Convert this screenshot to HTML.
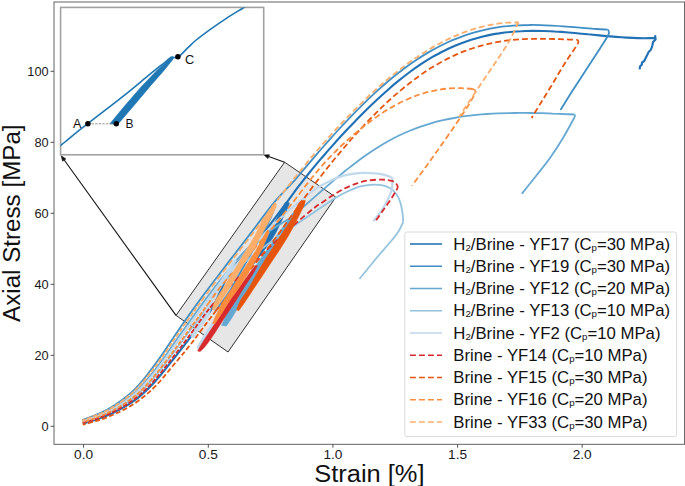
<!DOCTYPE html>
<html lang="en">
<head>
<meta charset="utf-8">
<title>Axial stress vs strain</title>
<style>
html,body{margin:0;padding:0;background:#fff;}
body{width:685px;height:486px;overflow:hidden;font-family:"Liberation Sans",sans-serif;}
svg{display:block;}
</style>
</head>
<body>
<svg width="685" height="486" viewBox="0 0 685 486" font-family="'Liberation Sans', sans-serif" shape-rendering="geometricPrecision">
<rect x="0" y="0" width="685" height="486" fill="#fff"/>
<polygon points="284.6,162.2 335.8,197.2 228.0,352.0 176.0,315.4" fill="#e6e6e6" stroke="#1a1a1a" stroke-width="0.9" stroke-linejoin="miter"/>
<g fill="none" stroke-linejoin="round" stroke-linecap="butt">
<path d="M252.5,263.5 C253.8,261.3 257.4,255.2 260.0,250.5 C262.6,245.8 265.6,240.5 268.2,235.5 C270.8,230.5 273.0,225.6 275.6,220.5 C278.2,215.4 282.1,208.1 283.8,205.0 C285.5,201.9 285.5,202.5 285.8,202.0 L288.6,202.5 C288.7,202.9 290.0,202.0 288.9,205.0 C287.8,208.0 284.2,215.4 281.8,220.5 C279.4,225.6 277.3,230.5 274.3,235.5 C271.3,240.5 267.4,245.8 264.0,250.5 C260.6,255.2 255.7,261.8 254.0,264.0 Z" fill="#2171b5" stroke="#2171b5" stroke-width="0.5"/>
<path d="M82.7,423.5 C85.1,422.8 92.3,420.9 97.1,419.2 C102.0,417.5 107.0,415.6 111.8,413.4 C116.6,411.2 121.1,408.9 125.8,406.1 C130.5,403.2 135.1,400.3 139.8,396.4 C144.5,392.5 149.2,388.0 154.2,382.6 C159.2,377.2 164.2,370.8 169.8,363.7 C175.5,356.7 181.2,349.4 188.2,340.2 C195.2,331.1 204.8,320.0 211.8,308.6 C218.8,297.2 223.5,282.1 230.0,272.0 C236.5,261.9 244.5,255.7 251.0,248.0 C257.5,240.3 263.0,233.7 269.0,226.0 C275.0,218.3 282.3,208.3 287.2,201.8 C292.1,195.2 294.6,191.5 298.3,186.6 C302.1,181.8 305.8,177.1 309.5,172.5 C313.2,167.9 316.9,163.5 320.6,159.1 C324.4,154.8 328.1,150.5 331.8,146.4 C335.5,142.2 339.2,138.1 342.9,134.1 C346.6,130.1 350.4,126.2 354.1,122.4 C357.8,118.5 361.5,114.8 365.2,111.1 C368.9,107.4 372.6,103.8 376.4,100.3 C380.1,96.8 383.8,93.4 387.5,90.2 C391.2,86.9 394.9,83.7 398.7,80.7 C402.4,77.7 406.1,74.8 409.8,72.0 C413.5,69.3 417.2,66.7 420.9,64.2 C424.7,61.7 428.4,59.4 432.1,57.2 C435.8,55.1 439.5,53.0 443.2,51.2 C447.0,49.3 450.7,47.6 454.4,46.0 C458.1,44.4 461.8,43.0 465.5,41.7 C469.2,40.4 473.0,39.2 476.7,38.2 C480.4,37.1 484.1,36.2 487.8,35.4 C491.5,34.6 495.2,33.9 499.0,33.4 C502.7,32.8 506.4,32.3 510.1,32.0 C513.8,31.6 517.5,31.3 521.3,31.2 C525.0,31.0 528.7,30.9 532.4,30.8 C536.1,30.8 539.8,30.9 543.5,31.0 C547.3,31.1 551.0,31.2 554.7,31.5 C558.4,31.7 562.1,31.9 565.8,32.2 C569.6,32.5 573.3,32.9 577.0,33.2 C580.7,33.5 584.4,33.9 588.1,34.3 C591.8,34.6 595.6,35.0 599.3,35.4 C603.0,35.8 606.7,36.1 610.4,36.4 C614.1,36.8 617.8,37.1 621.6,37.3 C625.3,37.6 629.0,37.8 632.7,37.9 C636.4,38.1 640.1,38.2 643.9,38.2 C647.6,38.2 653.1,38.0 655.0,38.0 M655.0,37.9 L655.2,36.0 L655.6,39.4 L653.0,42.0 L652.4,45.6 L650.9,49.7 L648.8,51.7 L646.2,56.9 L644.2,61.0 L641.9,62.6 L641.9,64.6 L640.1,66.2 L639.6,69.4" stroke="#2171b5" stroke-width="2.15"/>
<path d="M82.3,420.0 C84.6,419.1 91.5,416.8 96.0,414.8 C100.5,412.9 105.3,410.8 109.6,408.3 C113.9,405.8 117.9,403.1 122.0,400.0 C126.1,396.9 130.2,393.8 134.4,389.6 C138.6,385.4 142.5,380.7 147.0,375.0 C151.5,369.3 156.2,363.0 161.4,355.6 C166.6,348.2 171.5,340.2 177.9,330.9 C184.3,321.6 191.0,311.9 199.8,300.0 C208.6,288.1 221.3,271.6 230.6,259.4 C239.9,247.2 248.2,236.4 255.4,227.0 C262.6,217.6 267.0,210.9 273.6,203.0 C280.2,195.1 289.6,185.9 295.0,179.8 C300.4,173.8 302.4,171.0 306.2,166.6 C309.9,162.3 313.6,157.9 317.3,153.6 C321.0,149.3 324.8,145.1 328.5,140.9 C332.2,136.7 335.9,132.5 339.6,128.5 C343.4,124.5 347.1,120.5 350.8,116.6 C354.5,112.7 358.2,109.0 362.0,105.3 C365.7,101.6 369.4,98.0 373.1,94.6 C376.8,91.1 380.6,87.8 384.3,84.5 C388.0,81.3 391.7,78.2 395.4,75.2 C399.2,72.3 402.9,69.4 406.6,66.7 C410.3,64.0 414.0,61.4 417.8,59.0 C421.5,56.5 425.2,54.2 428.9,52.1 C432.6,49.9 436.4,47.9 440.1,46.0 C443.8,44.1 447.5,42.4 451.2,40.7 C455.0,39.1 458.7,37.6 462.4,36.3 C466.1,35.0 469.9,33.7 473.6,32.7 C477.3,31.6 481.0,30.6 484.7,29.8 C488.5,28.9 492.2,28.2 495.9,27.6 C499.6,27.0 503.3,26.5 507.1,26.2 C510.8,25.8 514.5,25.5 518.2,25.3 C521.9,25.1 525.7,25.0 529.4,25.0 C533.1,24.9 536.8,25.0 540.5,25.1 C544.3,25.2 548.0,25.4 551.7,25.6 C555.4,25.8 559.1,26.0 562.9,26.3 C566.6,26.6 570.3,26.9 574.0,27.2 C577.7,27.5 581.5,27.9 585.2,28.2 C588.9,28.5 592.6,28.8 596.3,29.0 C600.1,29.3 605.6,29.5 607.5,29.6 M607.5,29.4 C607.7,29.7 608.5,30.1 608.6,31.0 C608.7,31.9 609.7,32.1 608.3,35.0 C606.9,37.9 603.9,42.4 600.0,48.5 C596.1,54.6 589.7,64.3 585.0,71.5 C580.3,78.7 576.1,85.1 572.0,91.5 C567.9,97.9 562.4,106.9 560.5,110.0 M275.4,204.0 C274.6,206.2 273.0,212.3 270.8,217.4 C268.6,222.5 265.4,228.4 262.0,234.6 C258.6,240.8 254.1,248.1 250.3,254.8 C246.5,261.5 242.7,268.3 239.0,274.8 C235.3,281.3 232.0,287.7 228.0,293.8 C224.0,299.9 217.2,308.5 215.0,311.4" stroke="#3f8fc5" stroke-width="1.8"/>
<path d="M221.5,325.5 C222.2,323.8 224.1,319.7 226.0,315.5 C227.9,311.3 230.4,305.2 233.0,300.5 C235.6,295.8 237.7,293.3 241.5,287.5 C245.3,281.7 251.8,271.7 256.0,265.5 C260.2,259.3 263.0,255.5 266.5,250.5 C270.0,245.5 273.4,240.5 276.9,235.5 C280.4,230.5 284.8,224.3 287.5,220.5 C290.2,216.7 292.1,213.8 293.0,212.5 L294.5,213.0 C293.9,214.2 293.1,216.8 291.0,220.5 C288.9,224.2 285.0,230.5 282.0,235.5 C279.0,240.5 276.1,245.5 273.0,250.5 C269.9,255.5 267.2,259.3 263.5,265.5 C259.8,271.7 254.6,281.7 251.0,287.5 C247.4,293.3 244.9,295.8 242.0,300.5 C239.1,305.2 236.0,311.2 233.4,315.5 C230.8,319.8 227.7,324.2 226.5,326.0 Z" fill="#65a9d3" stroke="#65a9d3" stroke-width="0.5"/>
<path d="M82.4,421.0 C84.7,420.2 91.7,417.9 96.3,416.1 C101.0,414.2 105.8,412.2 110.2,409.8 C114.7,407.4 118.8,404.8 123.1,401.8 C127.4,398.7 131.6,395.7 136.0,391.6 C140.3,387.5 144.4,382.8 149.1,377.2 C153.7,371.6 158.5,365.2 163.8,358.0 C169.1,350.7 174.3,342.9 180.9,333.6 C187.5,324.4 196.4,311.8 203.3,302.5 C210.1,293.2 215.0,286.6 222.0,278.0 C229.0,269.4 237.3,258.7 245.0,251.0 C252.7,243.3 260.5,237.5 268.0,232.0 C275.5,226.5 284.5,222.0 290.0,218.1 C295.5,214.3 297.3,212.0 300.9,208.9 C304.6,205.8 308.2,202.6 311.9,199.4 C315.5,196.2 319.2,193.0 322.8,189.8 C326.5,186.7 330.1,183.5 333.8,180.4 C337.4,177.3 341.1,174.3 344.7,171.3 C348.4,168.4 352.0,165.5 355.7,162.7 C359.3,160.0 363.0,157.3 366.6,154.8 C370.3,152.2 373.9,149.8 377.6,147.5 C381.2,145.2 384.9,143.0 388.5,141.0 C392.2,139.0 395.8,137.1 399.5,135.3 C403.1,133.6 406.8,132.0 410.4,130.5 C414.1,129.0 417.7,127.6 421.4,126.4 C425.0,125.1 428.7,124.0 432.3,122.9 C435.9,121.9 439.6,121.0 443.2,120.2 C446.9,119.3 450.5,118.6 454.2,118.0 C457.8,117.3 461.5,116.7 465.1,116.2 C468.8,115.7 472.4,115.3 476.1,114.9 C479.7,114.6 483.4,114.3 487.0,114.0 C490.7,113.8 494.3,113.6 498.0,113.4 C501.6,113.2 505.3,113.1 508.9,113.1 C512.6,113.0 516.2,113.0 519.9,112.9 C523.5,112.9 527.2,113.0 530.8,113.0 C534.5,113.1 538.1,113.1 541.8,113.2 C545.4,113.3 549.1,113.4 552.7,113.6 C556.4,113.7 560.0,113.8 563.7,114.0 C567.3,114.1 572.8,114.4 574.6,114.5 M574.6,114.7 C574.7,114.9 575.2,115.3 575.0,116.0 C574.8,116.7 575.6,115.3 573.6,119.0 C571.6,122.7 566.9,131.5 563.0,138.0 C559.1,144.5 554.5,151.7 550.0,158.0 C545.5,164.3 540.7,170.0 536.0,176.0 C531.3,182.0 524.2,190.8 521.8,193.8" stroke="#65a9d3" stroke-width="1.8"/>
<path d="M82.6,422.4 C84.9,421.6 92.0,419.6 96.8,417.8 C101.5,416.0 106.5,414.1 111.1,411.8 C115.7,409.5 120.1,407.1 124.6,404.2 C129.1,401.2 133.5,398.2 138.1,394.2 C142.6,390.2 147.1,385.7 151.9,380.2 C156.8,374.7 161.7,368.3 167.2,361.2 C172.7,354.0 178.2,346.5 185.0,337.3 C191.8,328.1 201.8,314.8 208.0,305.9 C214.2,297.0 215.8,291.3 222.0,284.0 C228.2,276.7 237.3,268.7 245.0,262.0 C252.7,255.3 260.5,249.6 268.0,244.0 C275.5,238.4 282.2,233.8 290.0,228.5 C297.8,223.2 308.5,216.0 314.5,212.0 C320.5,208.0 322.2,206.8 326.0,204.3 C329.8,201.8 333.3,199.1 337.0,196.9 C340.7,194.7 344.3,193.0 348.0,191.3 C351.7,189.6 355.6,187.8 359.3,186.7 C363.0,185.6 366.7,185.1 370.4,184.8 C374.1,184.6 378.1,184.6 381.5,185.2 C384.9,185.8 388.2,187.0 390.7,188.5 C393.2,190.0 394.8,191.8 396.3,194.0 C397.9,196.2 399.0,198.5 400.0,201.5 C401.0,204.5 401.8,208.4 402.3,211.8 C402.9,215.2 403.1,220.0 403.3,221.7 M403.3,221.7 C402.5,223.4 400.2,228.6 398.3,231.7 C396.4,234.8 395.1,236.3 392.0,240.0 C388.9,243.7 383.7,249.7 380.0,254.0 C376.3,258.3 373.4,261.8 370.0,266.0 C366.6,270.2 361.2,276.8 359.5,279.0" stroke="#94c4df" stroke-width="1.8"/>
<path d="M197.4,348.6 C197.4,348.1 196.1,348.5 197.7,345.5 C199.3,342.5 203.9,335.1 206.8,330.5 C209.7,325.9 212.1,322.4 215.0,318.0 C217.9,313.6 221.0,308.7 224.0,304.0 C227.0,299.3 231.5,292.3 233.0,290.0 L236.0,291.0 C234.8,293.2 231.2,299.5 228.5,304.0 C225.8,308.5 222.4,313.6 219.5,318.0 C216.6,322.4 214.0,325.9 211.0,330.5 C208.0,335.1 203.4,342.4 201.5,345.5 C199.6,348.6 200.1,348.6 199.8,349.2 Z" fill="#c1d9ed" stroke="#c1d9ed" stroke-width="0.5"/><path d="M191.0,337.0 C191.4,335.9 191.2,334.1 193.2,330.5 C195.2,326.9 200.4,320.1 202.8,315.5 C205.2,310.9 205.4,307.4 207.5,303.0 C209.6,298.6 212.4,294.2 215.5,289.0 C218.6,283.8 222.8,276.9 226.0,272.0 C229.2,267.1 233.1,261.6 234.5,259.5 L236.5,260.5 C235.3,262.7 232.3,268.6 229.5,273.5 C226.7,278.4 222.4,285.1 219.5,290.0 C216.6,294.9 213.8,298.8 212.0,303.0 C210.2,307.2 211.1,310.9 208.8,315.5 C206.6,320.1 201.0,326.8 198.5,330.5 C196.0,334.2 194.8,336.8 194.0,338.0 Z" fill="#c1d9ed" stroke="#c1d9ed" stroke-width="0.5"/>
<path d="M82.5,421.5 C84.8,420.7 91.8,418.5 96.5,416.7 C101.2,414.9 106.0,412.9 110.6,410.5 C115.1,408.2 119.3,405.6 123.7,402.6 C128.0,399.6 132.3,396.6 136.7,392.5 C141.2,388.5 145.4,383.9 150.1,378.3 C154.9,372.7 159.7,366.4 165.1,359.1 C170.4,351.9 175.7,344.2 182.4,335.0 C189.0,325.7 198.4,312.7 205.0,303.7 C211.6,294.7 215.3,289.1 222.0,281.0 C228.7,272.9 237.3,263.5 245.0,255.0 C252.7,246.5 261.3,236.8 268.0,230.0 C274.7,223.2 279.7,218.8 285.0,214.0 C290.3,209.2 295.0,205.6 300.0,201.5 C305.0,197.4 310.5,192.5 314.8,189.4 C319.1,186.3 322.3,184.9 326.0,183.0 C329.7,181.1 333.3,179.2 337.0,177.8 C340.7,176.4 343.7,175.4 348.0,174.6 C352.3,173.8 358.0,173.0 363.0,172.8 C368.0,172.7 373.8,173.2 377.8,173.7 C381.8,174.2 384.6,174.9 387.0,175.6 C389.4,176.3 391.5,177.6 392.4,178.0 M392.4,178.0 C392.4,178.8 392.6,180.8 392.4,183.0 C392.2,185.2 392.7,187.2 391.4,191.0 C390.1,194.8 386.8,201.8 384.7,205.6 C382.6,209.4 380.9,211.4 379.0,214.0 C377.1,216.6 374.4,220.0 373.5,221.2" stroke="#c1d9ed" stroke-width="2.3"/>
<path d="M197.6,351.0 C198.1,350.1 198.6,348.9 200.7,345.5 C202.8,342.1 207.0,335.5 210.3,330.5 C213.6,325.5 217.1,320.5 220.3,315.5 C223.6,310.5 226.7,305.2 229.8,300.5 C232.9,295.8 235.9,291.9 239.1,287.5 C242.3,283.1 246.3,277.7 249.0,274.0 C251.7,270.3 254.3,266.9 255.4,265.5 L257.6,265.8 C256.7,267.4 254.2,271.9 252.0,275.5 C249.8,279.1 246.8,283.3 244.1,287.5 C241.4,291.7 239.0,295.8 236.0,300.5 C233.0,305.2 229.3,310.5 226.0,315.5 C222.7,320.5 219.7,325.5 216.4,330.5 C213.1,335.5 208.7,342.0 206.0,345.5 C203.3,349.0 201.0,350.6 200.0,351.6 Z" fill="#d62a2c" stroke="#d62a2c" stroke-width="0.5"/>
<path d="M82.6,423.0 C85.0,422.3 92.2,420.3 97.0,418.6 C101.8,416.9 106.8,414.9 111.5,412.7 C116.2,410.5 120.7,408.2 125.3,405.3 C129.9,402.4 134.4,399.4 139.1,395.5 C143.7,391.5 148.3,387.1 153.3,381.6 C158.2,376.1 163.1,369.8 168.7,362.7 C174.3,355.6 180.0,348.2 186.9,339.0 C193.8,329.8 203.7,315.6 210.2,307.5" stroke="#d62a2c" stroke-width="1.8" stroke-dasharray="4.6 1.7" stroke-dashoffset="0.0"/>
<path d="M210.2,307.5 C216.7,299.3 219.4,296.9 226.0,290.0 C232.6,283.1 242.3,273.5 250.0,266.0 C257.7,258.5 264.6,251.9 272.0,245.0 C279.4,238.1 287.9,230.3 294.7,224.3 C301.5,218.3 308.4,212.6 313.0,208.9 C317.6,205.2 318.8,204.7 322.2,202.4 C325.6,200.1 329.6,197.3 333.3,195.0 C337.0,192.7 340.7,190.3 344.4,188.5 C348.1,186.7 351.9,185.2 355.6,183.9 C359.3,182.6 362.4,181.4 366.7,180.7 C371.0,180.0 377.2,179.5 381.5,179.6 C385.8,179.7 390.0,180.2 392.6,181.1 C395.2,182.0 396.4,184.2 397.2,184.8 M397.2,184.8 C397.3,185.2 397.8,186.6 397.6,187.5 C397.5,188.4 397.5,188.4 396.3,190.4 C395.1,192.4 392.9,196.3 390.7,199.6 C388.5,202.9 385.8,206.5 383.3,210.0 C380.9,213.5 377.2,218.8 376.0,220.5" stroke="#d62a2c" stroke-width="1.8" stroke-dasharray="5.9 3.1"/>
<path d="M236.6,310.0 C237.2,308.4 238.3,304.2 240.4,300.5 C242.5,296.8 245.5,293.3 249.0,287.5 C252.5,281.7 257.8,271.7 261.5,265.5 C265.2,259.3 267.8,255.5 271.0,250.5 C274.2,245.5 277.2,240.5 280.5,235.5 C283.8,230.5 287.6,225.6 290.5,220.5 C293.4,215.4 295.9,208.3 297.7,205.0 C299.5,201.7 300.9,201.2 301.5,200.5 L305.3,200.5 C305.1,201.2 305.6,201.7 304.2,205.0 C302.8,208.3 299.2,215.4 296.6,220.5 C294.0,225.6 291.5,230.5 288.6,235.5 C285.7,240.5 282.4,245.5 279.2,250.5 C276.0,255.5 273.3,259.3 269.2,265.5 C265.1,271.7 258.5,281.7 254.6,287.5 C250.7,293.3 248.6,296.7 246.0,300.5 C243.4,304.3 240.2,308.8 239.0,310.5 Z" fill="#e6550d" stroke="#e6550d" stroke-width="0.5"/>
<path d="M82.8,424.6 C85.2,423.9 92.5,422.2 97.5,420.6 C102.5,419.0 107.6,417.1 112.5,415.0 C117.4,412.9 122.2,410.8 127.0,408.0 C131.8,405.2 136.6,402.3 141.5,398.5 C146.4,394.7 151.3,390.4 156.5,385.0 C161.7,379.6 166.7,373.3 172.5,366.3 C178.3,359.3 184.3,352.4 191.5,343.2 C198.7,334.0 206.7,322.5 215.6,311.3" stroke="#e6550d" stroke-width="1.8" stroke-dasharray="5.0 2.4" stroke-dashoffset="2.0"/>
<path d="M215.6,311.3 C224.5,300.1 236.3,286.6 245.0,276.0 C253.7,265.4 261.0,257.0 268.0,248.0 C275.0,239.0 282.0,229.0 287.0,222.1 C292.0,215.2 294.4,211.6 298.1,206.4 C301.8,201.3 305.6,196.3 309.3,191.3 C313.0,186.3 316.7,181.5 320.4,176.7 C324.1,171.9 327.8,167.3 331.5,162.7 C335.2,158.1 339.0,153.6 342.7,149.3 C346.4,144.9 350.1,140.6 353.8,136.5 C357.5,132.3 361.2,128.3 364.9,124.4 C368.7,120.4 372.4,116.6 376.1,112.9 C379.8,109.2 383.5,105.7 387.2,102.2 C390.9,98.8 394.6,95.5 398.3,92.3 C402.1,89.2 405.8,86.1 409.5,83.2 C413.2,80.3 416.9,77.6 420.6,75.0 C424.3,72.4 428.0,69.9 431.8,67.6 C435.5,65.3 439.2,63.2 442.9,61.2 C446.6,59.2 450.3,57.3 454.0,55.6 C457.7,53.9 461.4,52.3 465.2,50.9 C468.9,49.5 472.6,48.2 476.3,47.1 C480.0,46.0 483.7,45.0 487.4,44.1 C491.1,43.2 494.8,42.5 498.6,41.8 C502.3,41.2 506.0,40.7 509.7,40.2 C513.4,39.8 517.1,39.5 520.8,39.3 C524.5,39.0 528.2,38.9 532.0,38.8 C535.7,38.8 539.4,38.8 543.1,38.8 C546.8,38.8 550.5,38.9 554.2,39.0 C557.9,39.1 561.7,39.3 565.4,39.4 C569.1,39.5 574.6,39.7 576.5,39.8 M576.5,39.6 C576.8,39.8 578.1,40.1 578.2,41.0 C578.3,41.9 579.2,41.3 577.0,45.0 C574.8,48.7 569.0,56.7 565.0,63.0 C561.0,69.3 556.8,76.7 553.0,83.0 C549.2,89.3 545.6,95.2 542.0,101.0 C538.4,106.8 533.3,115.2 531.6,118.0" stroke="#e6550d" stroke-width="1.8" stroke-dasharray="5.9 3.1"/>
<path d="M212.5,323.5 C213.1,322.2 214.0,319.3 215.9,315.5 C217.8,311.7 220.9,305.2 223.7,300.5 C226.4,295.8 228.7,293.3 232.4,287.5 C236.2,281.7 242.3,271.7 246.2,265.5 C250.1,259.3 252.7,255.5 255.7,250.5 C258.7,245.5 262.2,238.9 264.1,235.5 C266.0,232.1 266.8,230.9 267.3,230.0 L268.5,230.0 C268.4,230.9 268.9,232.1 267.7,235.5 C266.5,238.9 263.8,245.5 261.3,250.5 C258.8,255.5 256.5,259.3 252.8,265.5 C249.1,271.7 242.9,281.7 239.1,287.5 C235.3,293.3 232.9,295.8 229.8,300.5 C226.7,305.2 222.9,311.6 220.3,315.5 C217.8,319.4 215.5,322.6 214.5,324.0 Z" fill="#fd8d3c" stroke="#fd8d3c" stroke-width="0.5"/>
<path d="M82.5,422.1 C84.9,421.3 92.0,419.3 96.7,417.5 C101.4,415.7 106.3,413.7 110.9,411.4 C115.5,409.1 119.8,406.6 124.3,403.7 C128.8,400.7 133.2,397.7 137.7,393.7 C142.2,389.7 146.6,385.1 151.4,379.6 C156.2,374.1 161.0,367.7 166.5,360.5 C172.0,353.3 177.4,345.8 184.2,336.6 C190.9,327.3 200.8,313.8 207.1,305.2" stroke="#fd8d3c" stroke-width="1.8" stroke-dasharray="4.4 1.5" stroke-dashoffset="3.1"/>
<path d="M207.1,305.2 C213.4,296.6 215.7,292.7 222.0,285.0 C228.3,277.3 237.3,267.7 245.0,259.0 C252.7,250.3 261.3,240.8 268.0,233.0 C274.7,225.2 280.3,218.1 285.0,212.3 C289.7,206.6 292.4,203.0 296.0,198.3 C299.7,193.5 303.4,188.5 307.1,183.8 C310.8,179.1 314.5,174.5 318.1,170.2 C321.8,165.9 325.5,161.8 329.2,157.9 C332.9,154.0 336.6,150.4 340.2,146.9 C343.9,143.3 347.6,140.0 351.3,136.8 C355.0,133.5 358.6,130.5 362.3,127.5 C366.0,124.6 369.7,121.8 373.4,119.1 C377.1,116.5 380.7,114.0 384.4,111.6 C388.1,109.3 391.8,107.1 395.5,105.1 C399.2,103.1 402.8,101.3 406.5,99.7 C410.2,98.0 413.9,96.5 417.6,95.2 C421.2,93.9 424.9,92.8 428.6,91.9 C432.3,91.0 436.0,90.2 439.7,89.6 C443.3,89.0 447.0,88.6 450.7,88.4 C454.4,88.2 458.1,88.1 461.8,88.2 C465.4,88.3 471.0,88.8 472.8,89.0 M472.8,88.9 C473.2,89.4 476.0,89.3 475.4,91.9 C474.8,94.5 471.9,99.4 469.0,104.3 C466.1,109.2 462.7,114.1 457.9,121.2 C453.1,128.3 445.5,139.2 440.0,147.0 C434.5,154.8 429.7,161.5 425.0,168.0 C420.3,174.5 414.2,182.8 412.0,185.8" stroke="#fd8d3c" stroke-width="1.8" stroke-dasharray="5.9 3.1"/>
<path d="M212.0,309.5 C212.6,308.0 213.5,304.2 215.4,300.5 C217.3,296.8 219.9,293.3 223.5,287.5 C227.1,281.7 233.3,271.7 237.0,265.5 C240.7,259.3 242.9,255.5 245.9,250.5 C248.9,245.5 252.2,240.5 254.9,235.5 C257.6,230.5 259.6,225.2 262.4,220.5 C265.2,215.8 269.5,209.9 271.5,207.0 C273.5,204.1 273.9,203.7 274.4,203.0 L276.0,203.2 C276.0,203.9 276.9,204.6 275.8,207.5 C274.7,210.4 271.9,215.8 269.5,220.5 C267.1,225.2 263.8,230.5 261.1,235.5 C258.4,240.5 256.1,245.5 253.1,250.5 C250.1,255.5 246.9,259.3 243.1,265.5 C239.2,271.7 233.6,281.7 230.0,287.5 C226.4,293.3 224.1,296.8 221.5,300.5 C218.9,304.2 215.7,308.4 214.5,310.0 Z" fill="#fdae6b" stroke="#fdae6b" stroke-width="0.5"/>
<path d="M82.3,420.5 C84.6,419.6 91.6,417.3 96.2,415.4 C100.7,413.5 105.5,411.4 109.9,409.0 C114.3,406.5 118.3,403.9 122.5,400.8 C126.7,397.7 130.9,394.6 135.1,390.5 C139.4,386.4 143.4,381.6 147.9,376.0 C152.5,370.4 157.3,364.0 162.5,356.7 C167.7,349.4 172.8,341.4 179.3,332.1 C185.7,322.9 193.6,311.8 201.4,301.1" stroke="#fdae6b" stroke-width="1.8" stroke-dasharray="4.8 1.4" stroke-dashoffset="1.2"/>
<path d="M201.4,301.1 C209.2,290.4 217.9,278.7 226.0,268.0 C234.1,257.3 241.9,247.7 250.0,237.0 C258.1,226.3 268.8,211.6 274.8,203.6 C280.8,195.6 282.2,193.9 285.9,189.1 C289.6,184.3 293.3,179.6 297.0,175.0 C300.7,170.4 304.4,165.9 308.0,161.4 C311.7,156.9 315.4,152.6 319.1,148.3 C322.8,144.0 326.5,139.8 330.2,135.6 C333.9,131.5 337.6,127.5 341.3,123.6 C345.0,119.6 348.7,115.8 352.4,112.0 C356.1,108.3 359.8,104.6 363.5,101.1 C367.1,97.5 370.8,94.1 374.5,90.7 C378.2,87.4 381.9,84.1 385.6,81.0 C389.3,77.9 393.0,74.8 396.7,71.9 C400.4,69.0 404.1,66.2 407.8,63.5 C411.5,60.9 415.2,58.3 418.9,55.9 C422.6,53.4 426.3,51.1 429.9,48.9 C433.6,46.7 437.3,44.6 441.0,42.7 C444.7,40.8 448.4,38.9 452.1,37.3 C455.8,35.6 459.5,34.1 463.2,32.7 C466.9,31.3 470.6,30.0 474.3,28.9 C478.0,27.7 481.7,26.8 485.4,25.9 C489.0,25.1 492.7,24.4 496.4,23.9 C500.1,23.3 503.8,22.9 507.5,22.7 C511.2,22.5 516.8,22.5 518.6,22.5 M518.6,22.0 C517.2,25.0 513.1,34.2 510.0,39.8 C506.9,45.4 503.5,50.3 500.0,55.7 C496.5,61.1 494.2,64.3 489.0,72.0 C483.8,79.7 474.0,94.3 469.0,101.8 C464.0,109.2 460.8,114.2 459.1,116.7" stroke="#fdae6b" stroke-width="1.8" stroke-dasharray="5.9 3.1"/>
</g>
<path d="M176.0,315.4 L64.2,160.0" stroke="#111" stroke-width="1.1" fill="none"/><polygon points="61.2,155.8 65.9,158.9 62.6,161.2" fill="#111" stroke="#111" stroke-width="0.6" stroke-linejoin="miter"/>
<path d="M284.6,162.2 L268.7,156.6" stroke="#111" stroke-width="1.1" fill="none"/><polygon points="263.8,154.9 269.4,154.7 268.0,158.5" fill="#111" stroke="#111" stroke-width="0.6" stroke-linejoin="miter"/>
<rect x="60.6" y="7.4" width="203.1" height="147.4" fill="#fff" stroke="#a2a2a2" stroke-width="1.6"/>
<clipPath id="ci"><rect x="60.6" y="7.4" width="203.1" height="147.4"/></clipPath>
<g clip-path="url(#ci)" fill="none">
<path d="M56.0,149.2 C56.8,148.6 59.1,146.8 60.6,145.6 C62.1,144.4 62.4,144.1 65.0,142.0 C67.6,139.9 72.2,135.8 76.0,132.8 C79.8,129.8 83.6,126.9 87.6,123.8 C91.6,120.7 93.4,119.3 100.0,114.2 C106.6,109.1 118.9,99.7 127.1,93.1 C135.3,86.5 142.9,80.0 149.4,74.7 C155.9,69.4 162.1,64.5 165.8,61.5 C169.5,58.5 170.6,57.7 171.6,56.9" stroke="#1f77b4" stroke-width="1.6"/>
<path d="M171.6,56.9 C172.7,56.9 175.4,58.6 178.2,57.0 C181.0,55.4 185.5,50.0 188.5,47.2 C191.5,44.4 192.6,42.9 196.2,40.0 C199.8,37.1 205.0,33.2 210.0,29.6 C215.0,26.0 220.3,22.3 226.0,18.6 C231.7,14.9 240.1,9.9 244.4,7.2 C248.7,4.5 250.7,3.3 252.0,2.5" stroke="#1f77b4" stroke-width="1.6"/>
<polygon points="109.9,123.8 124.7,105.9 141.1,87.0 157.6,69.7 170.7,57.4 172.6,56.9 173.6,58.4 163.9,70.6 150.8,85.4 134.3,105.1 120.9,120.7 117.6,124.4" fill="#1f77b4" stroke="#1f77b4" stroke-width="0.7" stroke-linejoin="round"/>
</g>
<path d="M87.9,123.8 L116.3,123.8" stroke="#888" stroke-width="0.9" stroke-dasharray="2.4 1.2" fill="none"/>
<circle cx="87.9" cy="123.8" r="2.75" fill="#000"/>
<circle cx="116.3" cy="123.8" r="2.75" fill="#000"/>
<circle cx="177.9" cy="56.8" r="2.75" fill="#000"/>
<g font-size="12.4" fill="#111">
<text x="72.9" y="127.6" textLength="8.4" lengthAdjust="spacingAndGlyphs">A</text>
<text x="125.5" y="127.6" textLength="8.0" lengthAdjust="spacingAndGlyphs">B</text>
<text x="185.0" y="63.6" textLength="9.2" lengthAdjust="spacingAndGlyphs">C</text>
</g>
<rect x="54.0" y="2.0" width="630.55" height="442.3" fill="none" stroke="#5c5c5c" stroke-width="0.95"/>
<g stroke="#333" stroke-width="0.85">
<line x1="83.6" y1="444.3" x2="83.6" y2="447.7"/>
<line x1="208.3" y1="444.3" x2="208.3" y2="447.7"/>
<line x1="332.9" y1="444.3" x2="332.9" y2="447.7"/>
<line x1="457.6" y1="444.3" x2="457.6" y2="447.7"/>
<line x1="582.2" y1="444.3" x2="582.2" y2="447.7"/>
<line x1="54.0" y1="426.3" x2="50.6" y2="426.3"/>
<line x1="54.0" y1="355.3" x2="50.6" y2="355.3"/>
<line x1="54.0" y1="284.3" x2="50.6" y2="284.3"/>
<line x1="54.0" y1="213.3" x2="50.6" y2="213.3"/>
<line x1="54.0" y1="142.3" x2="50.6" y2="142.3"/>
<line x1="54.0" y1="71.3" x2="50.6" y2="71.3"/>
</g>
<g font-size="12.5" fill="#1a1a1a">
<text x="83.6" y="459.0" text-anchor="middle" textLength="19.0" lengthAdjust="spacingAndGlyphs">0.0</text>
<text x="208.3" y="459.0" text-anchor="middle" textLength="19.0" lengthAdjust="spacingAndGlyphs">0.5</text>
<text x="332.9" y="459.0" text-anchor="middle" textLength="19.0" lengthAdjust="spacingAndGlyphs">1.0</text>
<text x="457.6" y="459.0" text-anchor="middle" textLength="19.0" lengthAdjust="spacingAndGlyphs">1.5</text>
<text x="582.2" y="459.0" text-anchor="middle" textLength="19.0" lengthAdjust="spacingAndGlyphs">2.0</text>
<text x="48.6" y="430.8" text-anchor="end" textLength="7.1" lengthAdjust="spacingAndGlyphs">0</text>
<text x="48.6" y="359.8" text-anchor="end" textLength="14.2" lengthAdjust="spacingAndGlyphs">20</text>
<text x="48.6" y="288.8" text-anchor="end" textLength="14.2" lengthAdjust="spacingAndGlyphs">40</text>
<text x="48.6" y="217.8" text-anchor="end" textLength="14.2" lengthAdjust="spacingAndGlyphs">60</text>
<text x="48.6" y="146.8" text-anchor="end" textLength="14.2" lengthAdjust="spacingAndGlyphs">80</text>
<text x="48.6" y="75.8" text-anchor="end" textLength="21.3" lengthAdjust="spacingAndGlyphs">100</text>
</g>
<text x="369.4" y="481.6" font-size="23" text-anchor="middle" textLength="110.4" lengthAdjust="spacingAndGlyphs" fill="#111">Strain [%]</text>
<text transform="translate(20.2,223.2) rotate(-90)" font-size="23" text-anchor="middle" textLength="197.5" lengthAdjust="spacingAndGlyphs" fill="#111">Axial Stress [MPa]</text>
<rect x="404.8" y="232.0" width="271.8" height="204.60000000000002" rx="2.2" ry="2.2" fill="#fff" fill-opacity="0.8" stroke="#dadada" stroke-width="1"/>
<line x1="410.0" y1="244.00" x2="442.0" y2="244.00" stroke="#2171b5" stroke-width="1.55"/>
<text x="453.3" y="249.70" font-size="16.2" fill="#111" textLength="216.8" lengthAdjust="spacingAndGlyphs">H<tspan font-size="9.4" dy="1.0">2</tspan><tspan dy="-1.0">/Brine - YF17 (C</tspan><tspan font-size="9.4" dy="1.0">p</tspan><tspan dy="-1.0">=30 MPa)</tspan></text>
<line x1="410.0" y1="266.25" x2="442.0" y2="266.25" stroke="#3f8fc5" stroke-width="1.55"/>
<text x="453.3" y="271.95" font-size="16.2" fill="#111" textLength="216.8" lengthAdjust="spacingAndGlyphs">H<tspan font-size="9.4" dy="1.0">2</tspan><tspan dy="-1.0">/Brine - YF19 (C</tspan><tspan font-size="9.4" dy="1.0">p</tspan><tspan dy="-1.0">=30 MPa)</tspan></text>
<line x1="410.0" y1="288.50" x2="442.0" y2="288.50" stroke="#65a9d3" stroke-width="1.55"/>
<text x="453.3" y="294.20" font-size="16.2" fill="#111" textLength="216.8" lengthAdjust="spacingAndGlyphs">H<tspan font-size="9.4" dy="1.0">2</tspan><tspan dy="-1.0">/Brine - YF12 (C</tspan><tspan font-size="9.4" dy="1.0">p</tspan><tspan dy="-1.0">=20 MPa)</tspan></text>
<line x1="410.0" y1="310.75" x2="442.0" y2="310.75" stroke="#94c4df" stroke-width="1.55"/>
<text x="453.3" y="316.45" font-size="16.2" fill="#111" textLength="216.8" lengthAdjust="spacingAndGlyphs">H<tspan font-size="9.4" dy="1.0">2</tspan><tspan dy="-1.0">/Brine - YF13 (C</tspan><tspan font-size="9.4" dy="1.0">p</tspan><tspan dy="-1.0">=10 MPa)</tspan></text>
<line x1="410.0" y1="333.00" x2="442.0" y2="333.00" stroke="#c1d9ed" stroke-width="1.55"/>
<text x="453.3" y="338.70" font-size="16.2" fill="#111" textLength="207.2" lengthAdjust="spacingAndGlyphs">H<tspan font-size="9.4" dy="1.0">2</tspan><tspan dy="-1.0">/Brine - YF2 (C</tspan><tspan font-size="9.4" dy="1.0">p</tspan><tspan dy="-1.0">=10 MPa)</tspan></text>
<line x1="410.0" y1="355.25" x2="442.0" y2="355.25" stroke="#d62a2c" stroke-width="1.55" stroke-dasharray="5.9 3.1"/>
<text x="453.3" y="360.95" font-size="16.2" fill="#111" textLength="194.2" lengthAdjust="spacingAndGlyphs">Brine - YF14 (C<tspan font-size="9.4" dy="1.0">p</tspan><tspan dy="-1.0">=10 MPa)</tspan></text>
<line x1="410.0" y1="377.50" x2="442.0" y2="377.50" stroke="#e6550d" stroke-width="1.55" stroke-dasharray="5.9 3.1"/>
<text x="453.3" y="383.20" font-size="16.2" fill="#111" textLength="194.2" lengthAdjust="spacingAndGlyphs">Brine - YF15 (C<tspan font-size="9.4" dy="1.0">p</tspan><tspan dy="-1.0">=30 MPa)</tspan></text>
<line x1="410.0" y1="399.75" x2="442.0" y2="399.75" stroke="#fd8d3c" stroke-width="1.55" stroke-dasharray="5.9 3.1"/>
<text x="453.3" y="405.45" font-size="16.2" fill="#111" textLength="194.2" lengthAdjust="spacingAndGlyphs">Brine - YF16 (C<tspan font-size="9.4" dy="1.0">p</tspan><tspan dy="-1.0">=20 MPa)</tspan></text>
<line x1="410.0" y1="422.00" x2="442.0" y2="422.00" stroke="#fdae6b" stroke-width="1.55" stroke-dasharray="5.9 3.1"/>
<text x="453.3" y="427.70" font-size="16.2" fill="#111" textLength="194.2" lengthAdjust="spacingAndGlyphs">Brine - YF33 (C<tspan font-size="9.4" dy="1.0">p</tspan><tspan dy="-1.0">=30 MPa)</tspan></text>
</svg>
</body>
</html>
